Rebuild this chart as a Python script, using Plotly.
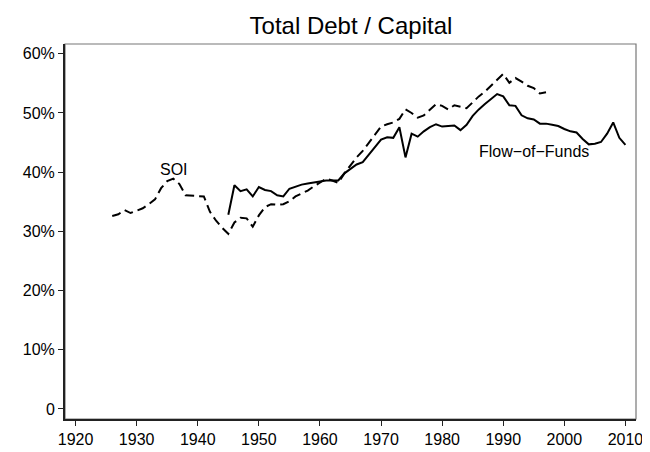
import plotly.graph_objects as go

soi_years = list(range(1926, 1998))
soi_values = [32.6, 32.9, 33.6, 33.1, 33.5, 33.9, 34.6, 35.4, 37.3, 38.5,
              38.9, 38.0, 36.1, 36.0, 36.0, 35.9, 33.3, 31.8, 30.6, 29.6,
              31.5, 32.3, 32.2, 30.8, 32.7, 34.1, 34.6, 34.5, 34.6, 35.1,
              35.9, 36.4, 36.9, 37.6, 38.3, 38.9, 38.6, 38.2, 39.8, 41.2,
              42.5, 43.6, 45.0, 46.5, 47.7, 48.1, 48.4, 49.0, 50.6, 50.0,
              49.2, 49.6, 50.5, 51.5, 51.2, 50.6, 51.3, 51.0, 50.8, 51.8,
              52.8, 53.6, 54.6, 55.5, 56.6, 55.1, 55.9, 55.3, 54.6, 54.2,
              53.3, 53.5]

fof_years = list(range(1945, 2011))
fof_values = [32.8, 37.8, 36.8, 37.1, 35.9, 37.5, 37.0, 36.8, 36.1, 35.9,
              37.2, 37.6, 37.9, 38.1, 38.3, 38.5, 38.6, 38.6, 38.6, 39.8,
              40.5, 41.3, 41.7, 43.0, 44.3, 45.5, 45.9, 45.8, 47.6, 42.5,
              46.5, 46.0, 46.9, 47.6, 48.1, 47.7, 47.8, 47.9, 47.1, 48.0,
              49.5, 50.6, 51.5, 52.3, 53.2, 52.8, 51.3, 51.2, 49.6, 49.1,
              48.9, 48.2, 48.2, 48.0, 47.8, 47.3, 46.9, 46.7, 45.6, 44.7,
              44.8, 45.1, 46.5, 48.4, 45.8, 44.6]

x_ticks = [1920, 1930, 1940, 1950, 1960, 1970, 1980, 1990, 2000, 2010]
y_ticks = [0, 10, 20, 30, 40, 50, 60]
y_ticktext = ["0", "10%", "20%", "30%", "40%", "50%", "60%"]

title_text = "Total Debt / Capital"
label_soi = "SOI"
label_fof = "Flow\u2212of\u2212Funds"

FONT = "Liberation Sans, Arial, Helvetica, sans-serif"

fig = go.Figure()
fig.add_trace(go.Scatter(x=soi_years, y=soi_values, mode="lines",
                         line=dict(color="black", width=2, dash="9px,5px"),
                         showlegend=False, hoverinfo="skip"))
fig.add_trace(go.Scatter(x=fof_years, y=fof_values, mode="lines",
                         line=dict(color="black", width=2),
                         showlegend=False, hoverinfo="skip"))

fig.add_annotation(x=1936.05, y=40.4, text=label_soi, showarrow=False,
                   font=dict(family=FONT, size=16, color="black"),
                   xanchor="center", yanchor="middle")
fig.add_annotation(x=1995.1, y=43.5, text=label_fof, showarrow=False,
                   font=dict(family=FONT, size=16, color="black"),
                   xanchor="center", yanchor="middle")

# thin gray frame (top / right)
fig.add_shape(type="rect", xref="paper", yref="paper", x0=0, y0=0, x1=1, y1=1,
              line=dict(color="#777777", width=1.2), layer="below")

fig.update_layout(
    width=650, height=452,
    margin=dict(l=57, r=22, t=36, b=31),
    paper_bgcolor="white", plot_bgcolor="white",
    font=dict(family=FONT, size=16, color="black"),
    title=dict(text=title_text, x=0.5276, xanchor="center",
               y=1 - 18 / 452, yanchor="middle", yref="container",
               font=dict(family=FONT, size=24, color="black")),
)
fig.update_xaxes(range=[1918.27, 2011.73], tickvals=x_ticks,
                 showgrid=False, zeroline=False,
                 showline=True, linecolor="#222222", linewidth=2,
                 ticks="outside", ticklen=5, tickwidth=1, tickcolor="#222222",
                 tickfont=dict(family=FONT, size=16, color="black"))
fig.update_yaxes(range=[-1.69, 61.65], tickvals=y_ticks, ticktext=y_ticktext,
                 showgrid=False, zeroline=False,
                 showline=True, linecolor="#222222", linewidth=2,
                 ticks="outside", ticklen=5, tickwidth=1, tickcolor="#222222",
                 tickfont=dict(family=FONT, size=16, color="black"))

fig.write_html("out.html")
